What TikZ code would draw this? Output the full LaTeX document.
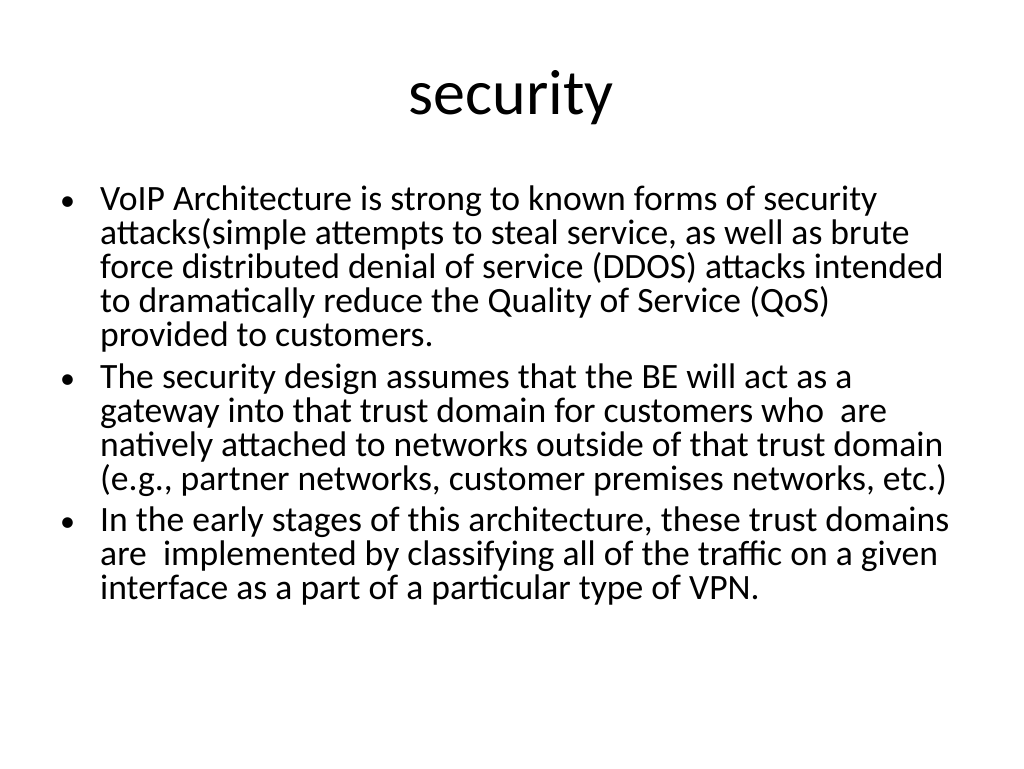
\documentclass[tikz,border=0pt]{standalone}
\usepackage{fontspec}
\setmainfont{Carlito}
\begin{document}
\begin{tikzpicture}[x=1pt,y=1pt,
  ln/.style={anchor=base west,inner sep=0pt,font=\fontsize{35.6}{40}\selectfont},
  bl/.style={anchor=base west,inner sep=0pt,font=\fontsize{30}{34}\selectfont}]
\useasboundingbox (0,0) rectangle (1024,768);
\node[anchor=base,inner sep=0pt,font=\fontsize{64}{70}\selectfont] (title) at (511,768-115) {security};
\foreach \y/\t [count=\i] in {
 211/{VoIP Architecture is strong to known forms of security},
 245/{attacks(simple attempts to steal service, as well as brute},
 279/{force distributed denial of service (DDOS) attacks intended},
 313/{to dramatically reduce the Quality of Service (QoS)},
 347/{provided to customers.},
 389/{The security design assumes that the BE will act as a},
 423/{gateway into that trust domain for customers who\ \ are},
 457/{natively attached to networks outside of that trust domain},
 491/{(e.g., partner networks, customer premises networks, etc.)},
 532/{In the early stages of this architecture, these trust domains},
 566/{are\ \ implemented by classifying all of the traffic on a given},
 600/{interface as a part of a particular type of VPN.}}
 {\node[ln] (l\i) at (100,768-\y) {\t};}
\foreach \y [count=\i] in {211,389,532}
 {\node[bl] (b\i) at (60,768-\y) {•};}
\end{tikzpicture}
\end{document}
